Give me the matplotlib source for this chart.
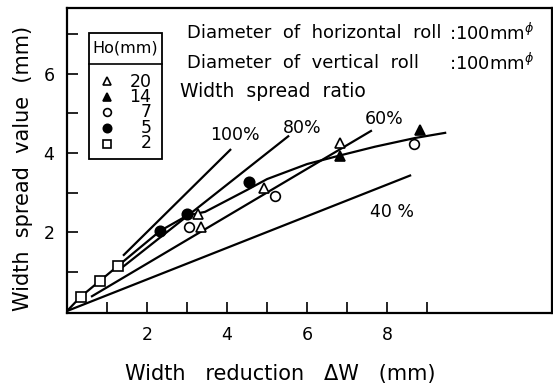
import matplotlib
matplotlib.use("Agg")
import matplotlib.pyplot as plt
import numpy as np
from matplotlib.patches import Rectangle
from matplotlib.lines import Line2D

# ---- data ----
ho20_x = [3.28, 3.34, 4.93, 6.83]
ho20_y = [2.46, 2.13, 3.12, 4.25]
ho14_x = [6.83, 8.81]
ho14_y = [3.92, 4.58]
ho7_x = [3.05, 5.20, 8.66]
ho7_y = [2.13, 2.92, 4.22]
ho5_x = [2.33, 3.01, 4.54]
ho5_y = [2.03, 2.46, 3.26]
ho2_x = [0.34, 0.83, 1.27]
ho2_y = [0.36, 0.77, 1.14]

# experimental trend curve
curve_x = [0.0, 0.34, 0.83, 1.27, 2.33, 3.01, 3.45, 4.49, 5.00, 6.00, 6.83, 7.70, 8.70, 9.45]
curve_y = [0.0, 0.36, 0.77, 1.14, 2.03, 2.42, 2.51, 3.06, 3.34, 3.72, 3.94, 4.16, 4.38, 4.51]

# width spread ratio lines (spread = ratio * reduction)
ratio_pct = [100, 80, 60, 40]
ratio_x0 = [1.40, 1.35, 0.60, 0.00]
ratio_x1 = [4.10, 5.55, 7.62, 8.60]
ratio_labels = ["100%", "80%", "60%", "40 %"]
ratio_label_xy = [(4.20, 4.46), (5.88, 4.63), (7.93, 4.85), (8.13, 2.51)]

legend_title = "Ho(mm)"
legend_labels = ["20", "14", "7", "5", "2"]

x_ticks = [1, 2, 3, 4, 5, 6, 7, 8, 9]
x_ticklabels = ["", "2", "", "4", "", "6", "", "8", ""]
y_ticks = [1, 2, 3, 4, 5, 6, 7]
y_ticklabels = ["", "2", "", "4", "", "6", ""]

# ---- figure ----
fig = plt.figure(figsize=(5.53, 3.85), dpi=100)
ax = fig.add_axes([67 / 553, 1 - 313 / 385, 485 / 553, 305 / 385])
ax.set_xlim(0, 12.12)
ax.set_ylim(-0.05, 7.67)

lw = 1.6
for p, x0, x1 in zip(ratio_pct, ratio_x0, ratio_x1):
    xs = np.array([x0, x1])
    ax.plot(xs, xs * p / 100.0, color="black", lw=lw, solid_capstyle="butt", zorder=2)
for lab, (tx, ty) in zip(ratio_labels, ratio_label_xy):
    ax.text(tx, ty, lab, ha="center", va="center", fontsize=12.5)

ax.plot(curve_x, curve_y, color="black", lw=lw, zorder=2)

styles = [
    dict(marker="^", ms=7.5, mfc="white", mec="black", mew=1.2),
    dict(marker="^", ms=7.5, mfc="black", mec="black", mew=1.2),
    dict(marker="o", ms=7.0, mfc="white", mec="black", mew=1.2),
    dict(marker="o", ms=7.5, mfc="black", mec="black", mew=1.2),
    dict(marker="s", ms=7.0, mfc="white", mec="black", mew=1.2),
]
series = [(ho20_x, ho20_y), (ho14_x, ho14_y), (ho7_x, ho7_y), (ho5_x, ho5_y), (ho2_x, ho2_y)]
for (sx, sy), st in zip(series, styles):
    ax.plot(sx, sy, ls="none", zorder=4, **st)

# ---- hand-built legend box ----
bx0, bx1, by0, by1, bsep = 0.045, 0.196, 0.505, 0.918, 0.816
ax.add_patch(Rectangle((bx0, by0), bx1 - bx0, by1 - by0, transform=ax.transAxes,
                       facecolor="white", edgecolor="black", lw=1.3, zorder=6))
ax.add_line(Line2D([bx0, bx1], [bsep, bsep], transform=ax.transAxes,
                   color="black", lw=1.2, zorder=7))
ax.text((bx0 + bx1) / 2, 0.868, legend_title, transform=ax.transAxes,
        ha="center", va="center", fontsize=11.5, zorder=7)
row_y = np.linspace(0.762, 0.553, len(legend_labels))
for st, ry in zip(styles, row_y):
    st2 = dict(st)
    st2["ms"] = st["ms"] * 0.8
    ax.plot([0.0818], [ry], ls="none", transform=ax.transAxes, zorder=8, clip_on=False, **st2)
ax.text(0.174, row_y.mean(), "\n".join(legend_labels), transform=ax.transAxes,
        ha="right", va="center", multialignment="right", linespacing=0.79,
        fontsize=12.5, zorder=8)

# annotation text
fs_ann = 13
ax.text(0.247, 0.918, "Diameter  of  horizontal  roll", transform=ax.transAxes,
        fontsize=fs_ann, ha="left", va="center")
ax.text(0.247, 0.820, "Diameter  of  vertical  roll", transform=ax.transAxes,
        fontsize=fs_ann, ha="left", va="center")
ax.text(0.788, 0.918, r":100mm$^{\phi}$", transform=ax.transAxes,
        fontsize=fs_ann, ha="left", va="center")
ax.text(0.788, 0.820, r":100mm$^{\phi}$", transform=ax.transAxes,
        fontsize=fs_ann, ha="left", va="center")
ax.text(0.233, 0.725, "Width  spread  ratio", transform=ax.transAxes,
        fontsize=13.5, ha="left", va="center")

ax.set_xticks(x_ticks)
ax.set_xticklabels(x_ticklabels)
ax.set_yticks(y_ticks)
ax.set_yticklabels(y_ticklabels)
ax.tick_params(direction="in", length=8, width=1.2, labelsize=12.5, pad=9)
for s in ax.spines.values():
    s.set_linewidth(1.6)

fig.text(280 / 553, 1 - 374 / 385, "Width   reduction   \u0394W   (mm)",
         fontsize=15, ha="center", va="center")
fig.text(23 / 553, 1 - 168 / 385, "Width  spread  value  (mm)",
         fontsize=15, ha="center", va="center", rotation=90)

fig.savefig("out.png", dpi=100)
